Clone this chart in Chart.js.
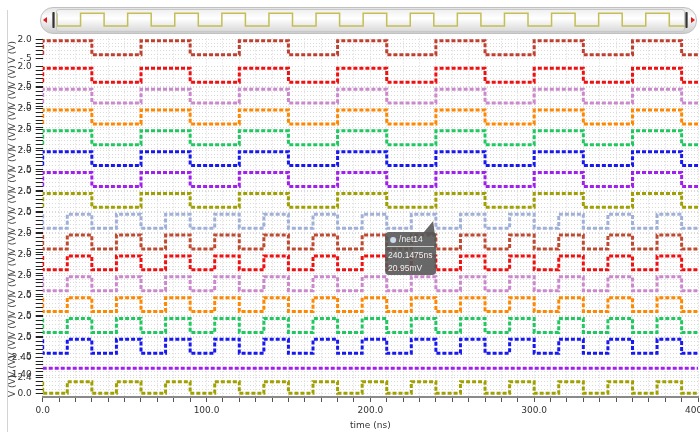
<!DOCTYPE html>
<html>
<head>
<meta charset="utf-8">
<title>Ondas</title>
<script src="https://cdn.jsdelivr.net/npm/chart.js@4.4.1/dist/chart.umd.min.js"></script>
<style>
  html, body { margin: 0; padding: 0; background: #fff; width: 700px; height: 435px; overflow: hidden; font-family: "DejaVu Sans", sans-serif; }
  #edge { position: absolute; left: 7px; top: 10px; width: 1px; height: 422px; background: #d4d4d4; }
  #main { position: absolute; left: 0; top: 0; }
  #bar { position: absolute; left: 40px; top: 7px; width: 657px; height: 27px; box-sizing: border-box; border: 1px solid #c0c0c0; border-radius: 13px; background: linear-gradient(#e4e4e4, #fdfdfd 35%, #cdcdcd); }
  #win { position: absolute; left: 56px; top: 9px; width: 629px; height: 23px; box-sizing: border-box; border: 1px solid #c8c8c8; border-radius: 3px; background: linear-gradient(#f0f0f0, #ffffff 40%, #dadada); }
  .grip { position: absolute; top: 12px; width: 3px; height: 16px; border-radius: 1px; background: linear-gradient(90deg, #999, #333, #999); }
  .arrow { position: absolute; top: 17px; width: 0; height: 0; border-top: 3px solid transparent; border-bottom: 3px solid transparent; }
  #arrL { left: 43px; border-right: 4px solid #e01818; }
  #arrR { left: 691px; border-left: 4px solid #e01818; }
  #over { position: absolute; left: 57px; top: 9px; }
</style>
</head>
<body>
<div id="edge"></div>
<canvas id="main" width="720" height="435"></canvas>
<div id="bar"></div>
<div id="win"></div>
<div class="grip" style="left:52px"></div>
<div class="grip" style="left:685px"></div>
<div class="arrow" id="arrL"></div>
<div class="arrow" id="arrR"></div>
<canvas id="over" width="628" height="22"></canvas>
<script>
// Datos (tiempos en ns, niveles en V)
const slowT = [0, 0, 30, 60, 90, 120, 150, 180, 210, 240, 270, 300, 330, 360, 390, 400];
const slowV = [0, 1.8, 0, 1.8, 0, 1.8, 0, 1.8, 0, 1.8, 0, 1.8, 0, 1.8, 0, 0];
const fastT = [0, 0, 15, 30, 45, 60, 75, 90, 105, 120, 135, 150, 165, 180, 195, 210, 225, 240, 255, 270, 285, 300, 315, 330, 345, 360, 375, 390, 400];
const fastV = [1.8, 0, 1.8, 0, 1.8, 0, 1.8, 0, 1.8, 0, 1.8, 0, 1.8, 0, 1.8, 0, 1.8, 0, 1.8, 0, 1.8, 0, 1.8, 0, 1.8, 0, 1.8, 0, 0];
const flatT = [0, 400];
const flatV = [1.8, 1.8];

// que onda lleva cada traza, de arriba a abajo
const traceWave = ['slow', 'slow', 'slow', 'slow', 'slow', 'slow', 'slow', 'slow',
                   'fast', 'fast', 'fast', 'fast', 'fast', 'fast', 'fast', 'flat', 'fast'];
const traceColor = ['#c04030', '#f01010', '#cc88cc', '#ff8800', '#20c860', '#1818f0', '#a020f0', '#a0a000',
                    '#a0b0d8', '#c04a30', '#f01010', '#cc88cc', '#ff8800', '#20c860', '#1818f0', '#a020f0', '#a0a000'];

// etiquetas de los ejes
const voltTicks = [-0.5, 0, 0.5, 1.0, 1.5, 2.0];
const flatTicks = [1.4, 1.6, 1.8, 2.0, 2.2, 2.4];
const lastTicks = [0, 0.6, 1.2, 1.8, 2.4];
const xLabelTicks = [0, 100, 200, 300, 400];

// el cursor con su globito
const cursorAt = [240.1475, 0.02095];
const cursorText = ['/net14', '240.1475ns', '20.95mV'];

const waves = { slow: [slowT, slowV], fast: [fastT, fastV], flat: [flatT, flatV] };

// tamaño de cada franja (alto en px) y su rango
const panels = traceWave.map((w, i) => {
  if (i === 0) return { min: -1.47, max: 2.1, h: 27.6, ticks: voltTicks, dec: 1 };
  if (w === 'flat') return { min: 1.4, max: 2.4, h: 17.1, ticks: flatTicks, dec: 2 };
  if (i === traceWave.length - 1) return { min: -0.6, max: 2.85, h: 22, ticks: lastTicks, dec: 1 };
  return { min: -0.6, max: 2.1, h: 20.85, ticks: voltTicks, dec: 1 };
});

function fmt(v, dec) {
  if (v === -0.5) return '-.5';
  return v.toFixed(dec);
}

const scales = {
  x: {
    type: 'linear', min: 0, max: 400,
    ticks: {
      stepSize: 10, autoSkip: false, maxRotation: 0, padding: 3,
      font: { size: 9 }, color: '#333',
      callback: v => xLabelTicks.includes(v) ? v.toFixed(1) : ''
    },
    grid: { color: '#d8d8d8', tickColor: '#555', tickLength: 5 },
    border: { display: true, color: '#8a8a8a', width: 2, dash: [1, 2] },
    title: { display: true, text: 'time (ns)', font: { size: 9 }, color: '#333', padding: { top: 0, bottom: 4 } },
    afterFit: s => { s.height = 38; }
  }
};

panels.forEach((p, i) => {
  scales['y' + i] = {
    type: 'linear', position: 'left', stack: 'traces', stackWeight: p.h, weight: panels.length - i,
    min: p.min, max: p.max,
    afterBuildTicks: s => { s.ticks = p.ticks.map(v => ({ value: v })); },
    ticks: {
      autoSkip: false, padding: 4, font: { size: 9 }, color: '#333',
      callback: (v, k, all) => (k === 0 || k === all.length - 1) ? fmt(v, p.dec) : ''
    },
    grid: { color: '#dadada', tickColor: '#222', tickLength: 7 },
    border: { display: false, dash: [1, 2] },
    title: { display: true, text: 'V (V)', font: { size: 9 }, color: '#444', padding: 0 },
    afterFit: s => { s.width = 35.7; }
  };
});

const datasets = traceWave.map((w, i) => ({
  label: 'trace' + i,
  data: waves[w][0].map((t, k) => ({ x: t, y: waves[w][1][k] })),
  yAxisID: 'y' + i,
  xAxisID: 'x',
  borderColor: traceColor[i],
  borderWidth: 3,
  borderDash: [4, 2],
  stepped: true,
  pointRadius: 0,
  fill: false
}));

// globito del cursor, pegado al punto por las escalas
const cursorTip = {
  id: 'cursorTip',
  afterDraw(chart) {
    const ctx = chart.ctx;
    const px = chart.scales.x.getPixelForValue(cursorAt[0]);
    const py = chart.scales.y8.getPixelForValue(cursorAt[1]);
    const left = px - 51, top = py + 4, w = 51, h = 43;
    ctx.save();
    ctx.fillStyle = 'rgba(88,88,88,0.9)';
    ctx.beginPath();
    ctx.roundRect(left, top, w, h, 4);
    ctx.fill();
    ctx.beginPath();
    ctx.moveTo(px - 13, top + 1);
    ctx.lineTo(px - 3, py - 7);
    ctx.lineTo(px - 1, top + 4);
    ctx.closePath();
    ctx.fill();
    ctx.fillStyle = '#cfd9f0';
    ctx.beginPath();
    ctx.arc(left + 8, top + 8, 3, 0, Math.PI * 2);
    ctx.fill();
    ctx.strokeStyle = '#c8c8c8';
    ctx.lineWidth = 1;
    ctx.beginPath();
    ctx.moveTo(left + 2, top + 14.5);
    ctx.lineTo(left + w - 2, top + 14.5);
    ctx.stroke();
    ctx.fillStyle = '#f0f0f0';
    ctx.font = '8.5px "Liberation Sans", sans-serif';
    ctx.textBaseline = 'middle';
    ctx.fillText(cursorText[0], left + 14, top + 8);
    ctx.fillText(cursorText[1], left + 3, top + 24);
    ctx.fillText(cursorText[2], left + 3, top + 37);
    ctx.restore();
  }
};

Chart.defaults.font.family = '"DejaVu Sans", sans-serif';

new Chart(document.getElementById('main'), {
  type: 'line',
  data: { datasets },
  options: {
    responsive: false,
    animation: false,
    devicePixelRatio: 1,
    events: [],
    layout: { padding: { left: 7, top: 38.4, right: 22, bottom: 0 } },
    plugins: { legend: { display: false }, tooltip: { enabled: false } },
    scales
  },
  plugins: [cursorTip]
});

// mini vista de arriba (la misma onda olivo)
new Chart(document.getElementById('over'), {
  type: 'line',
  data: { datasets: [{
    data: fastT.map((t, k) => ({ x: t, y: fastV[k] })),
    borderColor: '#c4be55', borderWidth: 1.5, stepped: true, pointRadius: 0
  }] },
  options: {
    responsive: false, animation: false, devicePixelRatio: 1, events: [],
    layout: { padding: 0 },
    plugins: { legend: { display: false }, tooltip: { enabled: false } },
    scales: {
      x: { type: 'linear', min: 0, max: 400, display: false },
      y: { min: -0.71, max: 2.41, display: false }
    }
  }
});
</script>
</body>
</html>
